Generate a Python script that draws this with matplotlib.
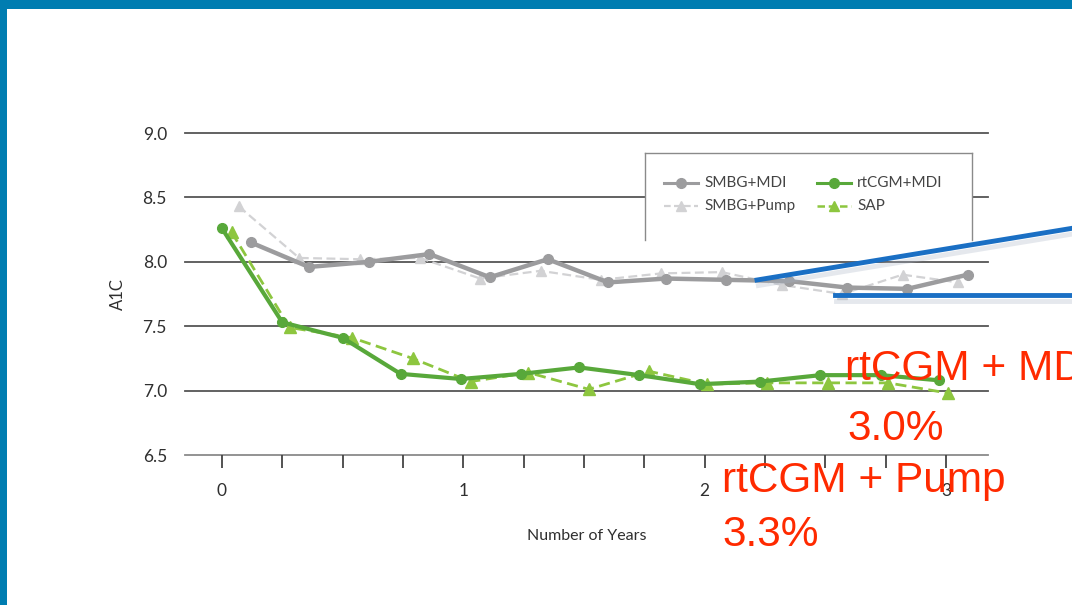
import matplotlib
matplotlib.use("Agg")
import matplotlib.pyplot as plt
from matplotlib.lines import Line2D
from matplotlib.patches import Rectangle
import matplotlib.patheffects as pe

# A1C over time by treatment group
smbg_mdi_x = [0.12, 0.36, 0.61, 0.86, 1.11, 1.35, 1.60, 1.84, 2.09, 2.35, 2.59, 2.84, 3.09]
smbg_mdi_y = [8.15, 7.96, 8.00, 8.06, 7.88, 8.02, 7.84, 7.87, 7.86, 7.85, 7.80, 7.79, 7.90]

smbg_pump_x = [0.07, 0.32, 0.57, 0.82, 1.07, 1.32, 1.57, 1.82, 2.07, 2.32, 2.57, 2.82, 3.05]
smbg_pump_y = [8.43, 8.03, 8.02, 8.03, 7.87, 7.93, 7.86, 7.91, 7.92, 7.82, 7.75, 7.90, 7.84]

cgm_mdi_x = [0.00, 0.25, 0.50, 0.74, 0.99, 1.24, 1.48, 1.73, 1.98, 2.23, 2.48, 2.73, 2.97]
cgm_mdi_y = [8.26, 7.53, 7.41, 7.13, 7.09, 7.13, 7.18, 7.12, 7.05, 7.07, 7.12, 7.12, 7.08]

sap_x = [0.04, 0.28, 0.54, 0.79, 1.03, 1.27, 1.52, 1.77, 2.01, 2.26, 2.51, 2.76, 3.01]
sap_y = [8.23, 7.49, 7.41, 7.25, 7.07, 7.14, 7.01, 7.15, 7.05, 7.06, 7.06, 7.06, 6.98]

y_ticks = [6.5, 7.0, 7.5, 8.0, 8.5, 9.0]
y_tick_labels = ["6.5", "7.0", "7.5", "8.0", "8.5", "9.0"]
x_major = [0, 1, 2, 3]
x_minor = [0.25, 0.5, 0.75, 1.25, 1.5, 1.75, 2.25, 2.5, 2.75]

callout_lines = ["rtCGM + MDI", "3.0%", "rtCGM + Pump", "3.3%"]

W, H = 1072, 605
fig = plt.figure(figsize=(W / 100, H / 100), dpi=100)
fig.patch.set_facecolor("white")

def fx(px):
    return px / W

def fy(py):
    return 1 - py / H

# slide frame
fig.add_artist(Rectangle((0, fy(9)), 1, 9 / H, transform=fig.transFigure,
                         color="#007db1", lw=0, zorder=0))
fig.add_artist(Rectangle((0, 0), 7 / W, 1, transform=fig.transFigure,
                         color="#007db1", lw=0, zorder=0))

ax = fig.add_axes([fx(185), fy(455), fx(988) - fx(185), fy(133) - fy(455)])
ax.set_xlim(-0.153, 3.174)
ax.set_ylim(6.5, 9.0)
for s in ax.spines.values():
    s.set_visible(False)

txt_font = ["Lato", "DejaVu Sans"]
for yv in y_ticks:
    ax.axhline(yv, color="#555555" if yv != 6.5 else "#8a8a8a", lw=1.3,
               zorder=1, clip_on=False)

ax.set_yticks(y_ticks)
ax.set_yticklabels(y_tick_labels, fontsize=12.5, color="#2f2f2f", family=txt_font)
ax.tick_params(axis="y", length=0, pad=13)

ax.set_xticks(x_major)
ax.set_xticklabels([str(v) for v in x_major], fontsize=12.5, color="#2f2f2f",
                   family=txt_font)
ax.set_xticks(x_minor, minor=True)
ax.tick_params(axis="x", which="both", length=9, width=1.3, color="#444444",
               direction="out", pad=11)

ax.set_ylabel("A1C", fontsize=12, color="#2f2f2f", family=txt_font, labelpad=12)
ax.set_xlabel("Number of Years", fontsize=11.5, color="#2f2f2f", family=txt_font,
              labelpad=22)

gray = "#9c9c9e"
light_gray = "#d2d2d4"
green = "#58a83a"
light_green = "#8dc63f"

ax.plot(smbg_pump_x, smbg_pump_y, color=light_gray, lw=1.6, ls=(0, (4, 2)),
        marker="^", ms=7, zorder=3, clip_on=False)
ax.plot(smbg_mdi_x, smbg_mdi_y, color=gray, lw=3.2, marker="o", ms=7,
        zorder=4, clip_on=False)
ax.plot(sap_x, sap_y, color=light_green, lw=2.0, ls=(0, (4, 2)),
        marker="^", ms=8, zorder=5, clip_on=False)
ax.plot(cgm_mdi_x, cgm_mdi_y, color=green, lw=3.0, marker="o", ms=7,
        zorder=6, clip_on=False)

# legend box (open at the bottom)
lx0, lx1, ly0, ly1 = fx(645), fx(972), fy(153), fy(240)
box_bg = Rectangle((lx0, ly1), lx1 - lx0, ly0 - ly1, transform=fig.transFigure,
                   facecolor="white", edgecolor="none", zorder=7)
fig.add_artist(box_bg)
for xs, ys in [([lx0, lx0], [ly1, ly0]), ([lx0, lx1], [ly0, ly0]),
               ([lx1, lx1], [ly0, ly1])]:
    fig.add_artist(Line2D(xs, ys, transform=fig.transFigure, color="#8a8a8a",
                          lw=1.0, zorder=8))

leg_items = [
    (664, 183, "SMBG+MDI", dict(color=gray, lw=2.2, marker="o", ms=7)),
    (817, 183, "rtCGM+MDI", dict(color=green, lw=2.2, marker="o", ms=7)),
    (664, 206, "SMBG+Pump", dict(color=light_gray, lw=1.6, ls=(0, (3, 1.5)),
                                 marker="^", ms=7)),
    (817, 206, "SAP", dict(color=light_green, lw=1.8, ls=(0, (3, 1.5)),
                           marker="^", ms=7)),
]
for px, py, label, style in leg_items:
    fig.add_artist(Line2D([fx(px), fx(px + 17), fx(px + 34)],
                          [fy(py), fy(py), fy(py)], markevery=[1],
                          transform=fig.transFigure, zorder=9, **style))
    fig.text(fx(px + 40), fy(py), label, fontsize=11, color="#444444",
             family=txt_font, va="center", ha="left", zorder=9)

# blue callout lines with a soft shadow
shadow = [pe.SimpleLineShadow(offset=(1, -4), shadow_color="#a9b4c6", alpha=0.3,
                              rho=0.8), pe.Normal()]
fig.add_artist(Line2D([fx(757), fx(1080)], [fy(280), fy(227)],
                      transform=fig.transFigure, color="#1a6fc4", lw=3.5,
                      zorder=10, path_effects=shadow))
fig.add_artist(Line2D([fx(835), fx(1080)], [fy(295), fy(295)],
                      transform=fig.transFigure, color="#1a6fc4", lw=3.5,
                      zorder=10, path_effects=shadow))

# red annotations
red = "#ff2a00"
red_font = ["Liberation Sans", "DejaVu Sans"]
for (px, py), text in zip([(845, 380), (847, 440), (722, 492), (722, 546)],
                          callout_lines):
    fig.text(fx(px), fy(py), text, fontsize=30.5, color=red, family=red_font,
             ha="left", va="baseline", zorder=11)

fig.savefig("out.png", dpi=100, facecolor="white")
